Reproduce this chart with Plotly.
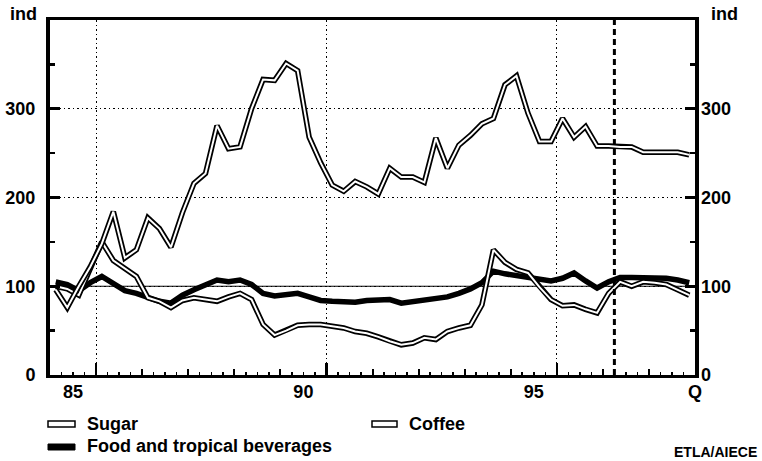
import plotly.graph_objects as go

# ---------------- data ----------------
years = list(range(1985, 1999))
quarters = [f"{y}Q{q}" for y in years for q in range(1, 5)]

sugar = [96, 76, 100, 122, 148, 184, 132, 141, 177, 165, 144, 183, 216, 227,
         281, 255, 257, 300, 333, 332, 351, 343, 268, 239, 214, 207, 218, 212,
         204, 233, 223, 223, 217, 267, 233, 259, 270, 283, 289, 327, 337, 295,
         263, 263, 289, 268, 280, 258, 258, 257, 257, 251, 251, 251, 251, 248]

coffee = [100, 97, 90, 120, 150, 129, 120, 111, 87, 83, 76, 84, 87, 85,
          83, 88, 92, 85, 57, 45, 50, 56, 57, 57, 55, 53, 49, 47,
          43, 38, 34, 36, 42, 40, 49, 53, 56, 79, 141, 127, 119, 115,
          99, 85, 78, 79, 74, 70, 92, 105, 100, 105, 104, 102, 96, 90]

food = [105, 102, 95, 104, 111, 103, 95, 92, 87, 83, 81, 90, 96, 102,
        107, 105, 107, 102, 92, 89, 90, 92, 88, 84, 83, 82, 82, 84,
        85, 85, 81, 83, 84, 86, 88, 92, 97, 104, 117, 114, 112, 111,
        108, 106, 109, 115, 106, 98, 105, 110, 110, 110, 110, 109, 107, 104]

x_labels = ["85", "90", "95", "Q"]
x_label_pos = [1985.5, 1990.5, 1995.5, 1999]
y_ticks = [0, 100, 200, 300]
y_minor = [50, 150, 250, 350]
grid_years = [1986, 1991, 1996]
forecast_start = 1997.25
base_index = 100
x_range = [1985, 1999]
y_range = [0, 400]


def qpos(s):
    y, q = s.split("Q")
    return int(y) + (int(q) - 0.5) / 4


x = [qpos(s) for s in quarters]
quarter_ticks = [y + k / 4 for y in years for k in range(1, 4)]

FONT = "Liberation Sans, Arial, Helvetica, sans-serif"

# pixel helpers for layout positioning (plot area 50..695 x 20..375)
L, R, T, B = 50, 695, 20, 375


def px(v):
    return (v - L) / (R - L)


def py(v):
    return (B - v) / (B - T)


fig = go.Figure()

# Food: thick black line
fig.add_trace(go.Scatter(x=x, y=food, mode="lines",
                         line=dict(color="black", width=5.5), hoverinfo="skip"))
# Coffee and Sugar: double (hollow) lines
for series in (coffee, sugar):
    fig.add_trace(go.Scatter(x=x, y=series, mode="lines",
                             line=dict(color="black", width=5.5), hoverinfo="skip"))
    fig.add_trace(go.Scatter(x=x, y=series, mode="lines",
                             line=dict(color="white", width=2), hoverinfo="skip"))

# dummy traces for overlay axes
fig.add_trace(go.Scatter(x=[], y=[], xaxis="x2", yaxis="y", hoverinfo="skip"))
fig.add_trace(go.Scatter(x=[], y=[], xaxis="x3", yaxis="y", hoverinfo="skip"))
fig.add_trace(go.Scatter(x=[], y=[], xaxis="x", yaxis="y2", hoverinfo="skip"))

DOT = "1.5px,3px"
tickfont = dict(family=FONT, size=18, color="black", weight="bold")

fig.update_layout(
    width=762, height=461,
    margin=dict(l=L, r=762 - R, t=T, b=461 - B, pad=0, autoexpand=False),
    paper_bgcolor="white", plot_bgcolor="white",
    showlegend=False,
    font=dict(family=FONT, size=18, color="black"),
    xaxis=dict(range=x_range, tickmode="array", tickvals=years + [1999],
               ticks="inside", ticklen=6, tickwidth=2, tickcolor="black",
               showticklabels=False, showgrid=False, zeroline=False, automargin=False,
               showline=True, linewidth=3, linecolor="black", mirror=True,
               minor=dict(tickmode="array", tickvals=quarter_ticks, ticks="inside",
                          ticklen=3, tickwidth=1.5, tickcolor="black", showgrid=False)),
    xaxis2=dict(range=x_range, overlaying="x", anchor="y", side="bottom",
                tickmode="array", tickvals=x_label_pos, ticktext=x_labels,
                ticks="", showgrid=False, zeroline=False, showline=False, automargin=False,
                tickfont=tickfont, ticklabelstandoff=4),
    xaxis3=dict(range=x_range, overlaying="x", anchor="y", side="bottom",
                tickmode="array", tickvals=grid_years, ticks="inside", ticklen=12,
                tickwidth=2.5, tickcolor="black", showticklabels=False,
                showgrid=True, gridcolor="black", gridwidth=1, griddash=DOT,
                zeroline=False, showline=False, automargin=False),
    yaxis=dict(range=y_range, tickmode="array", tickvals=y_ticks,
               ticks="inside", ticklen=10, tickwidth=3, tickcolor="black",
               showgrid=True, gridcolor="black", gridwidth=1, griddash=DOT,
               zeroline=False, showline=True, linewidth=4, linecolor="black",
               mirror=True, tickfont=tickfont, ticklabelstandoff=7, automargin=False,
               minor=dict(tickmode="array", tickvals=y_minor, ticks="inside",
                          ticklen=5, tickwidth=2.5, tickcolor="black", showgrid=False)),
    yaxis2=dict(range=y_range, overlaying="y", anchor="x", side="right",
                tickmode="array", tickvals=y_ticks, ticks="inside", ticklen=10,
                tickwidth=3, tickcolor="black", showgrid=False, zeroline=False,
                showline=False, tickfont=tickfont, ticklabelstandoff=5, automargin=False,
                minor=dict(tickmode="array", tickvals=y_minor, ticks="inside",
                           ticklen=5, tickwidth=2.5, tickcolor="black", showgrid=False)),
)

shapes = [
    # index = 100 baseline
    dict(type="line", xref="paper", yref="y", x0=0, x1=1, y0=base_index, y1=base_index,
         line=dict(color="black", width=1.2), layer="below"),
    # forecast divider
    dict(type="line", xref="x", yref="paper", x0=forecast_start, x1=forecast_start,
         y0=0, y1=1, line=dict(color="black", width=3, dash="6px,4px"), layer="above"),
    # legend symbols
    dict(type="rect", xref="paper", yref="paper", x0=px(48), x1=px(75), y0=py(421), y1=py(427),
         line=dict(color="black", width=1.5), fillcolor="white"),
    dict(type="rect", xref="paper", yref="paper", x0=px(372), x1=px(397), y0=py(421), y1=py(427),
         line=dict(color="black", width=1.5), fillcolor="white"),
    dict(type="rect", xref="paper", yref="paper", x0=px(48), x1=px(75), y0=py(444), y1=py(450),
         line=dict(color="black", width=1), fillcolor="black"),
]
fig.update_layout(shapes=shapes)

ann_font = dict(family=FONT, size=18, color="black", weight="bold")
annotations = [
    dict(text="ind", x=px(8), y=py(14), xanchor="left", yanchor="middle"),
    dict(text="ind", x=px(709), y=py(14), xanchor="left", yanchor="middle"),
    dict(text="Sugar", x=px(85), y=py(424), xanchor="left", yanchor="middle"),
    dict(text="Coffee", x=px(407), y=py(424), xanchor="left", yanchor="middle"),
    dict(text="Food and tropical beverages", x=px(85), y=py(446), xanchor="left", yanchor="middle"),
    dict(text="ETLA/AIECE", x=px(759), y=py(452), xanchor="right", yanchor="middle",
         font=dict(family=FONT, size=14, color="black", weight="bold")),
]
for a in annotations:
    a.setdefault("font", ann_font)
    a.update(xref="paper", yref="paper", showarrow=False)
fig.update_layout(annotations=annotations)

fig.write_html("out.html",
               config={"displayModeBar": False, "staticPlot": True},
               post_script="document.body.style.margin='0px';document.body.style.overflow='hidden';")
